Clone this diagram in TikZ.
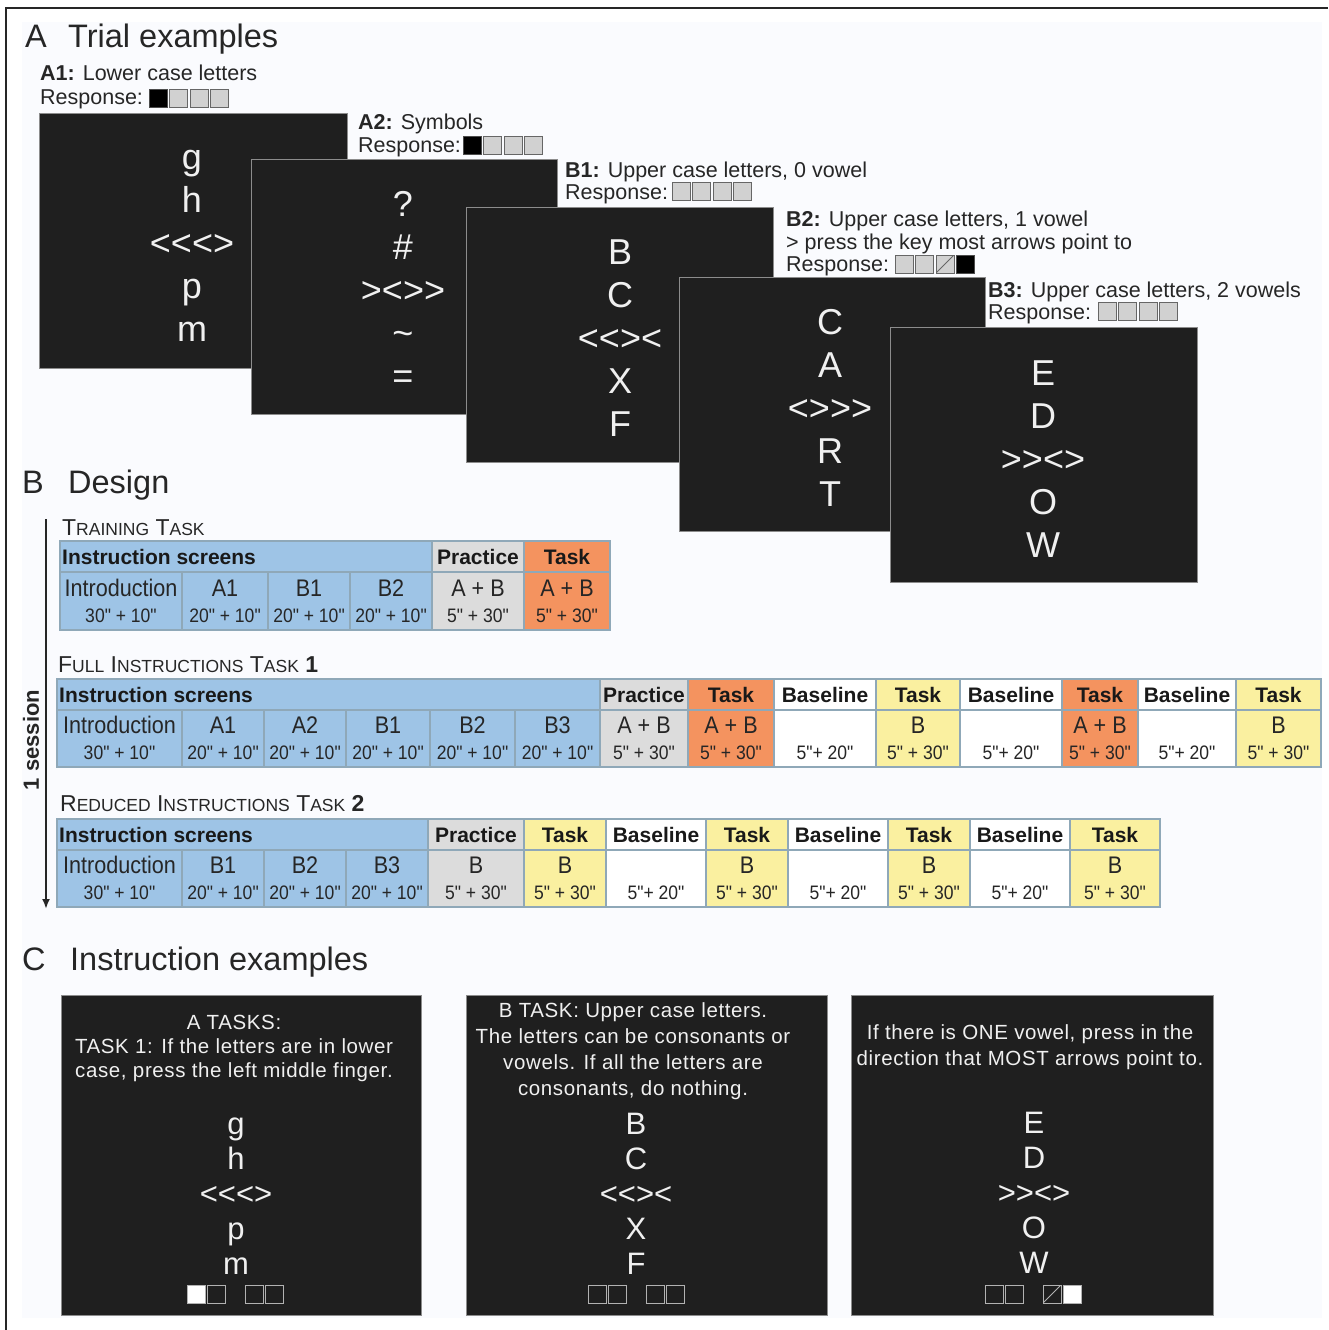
\documentclass[tikz,border=0pt]{standalone}
\usepackage{fontspec}
\setmainfont{Liberation Sans}
\newfontfamily\narrowfont[FakeStretch=0.9]{Liberation Sans}
\newfontfamily\panelfont[LetterSpace=3]{Liberation Sans}
\usetikzlibrary{arrows.meta}
\definecolor{scr}{HTML}{1F1F1F}
\definecolor{pagebg}{HTML}{FAFBFE}
\definecolor{blu}{HTML}{9EC4E6}
\definecolor{gry}{HTML}{DCDCDC}
\definecolor{org}{HTML}{F4935F}
\definecolor{yel}{HTML}{FAF0A0}
\definecolor{cline}{HTML}{8FA8B8}
\tikzset{
  screen/.style={fill=scr, draw=black!45, line width=0.8},
  scrtxt/.style={text=white!94!black, align=center, font=\fontsize{36}{43}\selectfont},
  lbl/.style={anchor=base west, inner sep=0, text=black!85, font=\fontsize{21.5}{24}\selectfont},
  sect/.style={anchor=base west, inner sep=0, text=black!85, font=\fontsize{32.5}{36}\selectfont},
  ttl/.style={anchor=base west, inner sep=0, text=black!85, font=\fontsize{23}{24}\selectfont},
  hdr/.style={inner sep=0, text=black!90, font=\bfseries\fontsize{21}{24}\selectfont},
  lab/.style={inner sep=0, text=black!85, font=\narrowfont\fontsize{24}{26}\selectfont},
  tim/.style={inner sep=0, text=black!85, font=\narrowfont\fontsize{19.5}{22}\selectfont},
  cblu/.style={draw=cline, fill=blu, line width=1.2},
  cgry/.style={draw=cline, fill=gry, line width=1.2},
  corg/.style={draw=cline, fill=org, line width=1.2},
  cyel/.style={draw=cline, fill=yel, line width=1.2},
  cwht/.style={draw=cline, fill=white, line width=1.2},
  rblk/.style={draw=black!70, fill=black, line width=0.8},
  rgry/.style={draw=black!60, fill=black!18, line width=0.8},
  rcut/.style={rgry, path picture={\draw[black!60, line width=0.8] (path picture bounding box.south west) -- (path picture bounding box.north east);}},
  ptxt/.style={text=white!94!black, align=center, font=\panelfont\fontsize{20.5}{24}\selectfont},
  pltr/.style={text=white!94!black, align=center, font=\fontsize{31}{35}\selectfont},
  kwht/.style={draw=white!70!black, fill=white, line width=0.8},
  kemp/.style={draw=white!70!black, line width=0.8},
  kcut/.style={kemp, path picture={\draw[white!70!black, line width=0.8] (path picture bounding box.south west) -- (path picture bounding box.north east);}}
}
\def\fakesc#1#2{#1{\fontsize{17.5}{18}\selectfont#2}}
\def\lsym{\mbox{<}}
\def\rsym{\mbox{>}}
\def\respbox(#1,#2)#3{\foreach \s [count=\k from 0] in {#3} {\draw[\s] ({#1+20.5*\k},#2) rectangle ++(18,18);}}
\def\keyrow(#1,#2)#3#4#5#6{%
  \draw[#3] (#1,#2) rectangle ++(18,18);
  \draw[#4] ({#1+20},#2) rectangle ++(18,18);
  \draw[#5] ({#1+58},#2) rectangle ++(18,18);
  \draw[#6] ({#1+78},#2) rectangle ++(18,18);}

\begin{document}
\begin{tikzpicture}[x=1pt,y=-1pt]
		%%%%% START %%%%%
		\useasboundingbox (0,0) rectangle (1328,1330);
		\fill[pagebg] (22,22) rectangle (1322,1318);
		\draw[line width=2.5, black!85] (6,1330) -- (6,8) -- (1328,8);
		
		%%%%% A: trial examples
		\node[sect] (secA) at (25,48) {A};
		\node[sect] (titA) at (68,48) {Trial examples};
		
		\node[lbl] (a1head) at (40,81) {\textbf{A1:} Lower case letters};
		\node[lbl] (a1resp) at (40,104) {Response:};
		\respbox(149,89){rblk,rgry,rgry,rgry}
		\draw[screen] (39,113) rectangle (347,368);
		\node[scrtxt] (a1ltr) at (192,246) {g\\h\\\lsym\lsym\lsym\rsym\\p\\m};
		
		\node[lbl] (a2head) at (358,129) {\textbf{A2:} Symbols};
		\node[lbl] (a2resp) at (358,152) {Response:};
		\respbox(463,136){rblk,rgry,rgry,rgry}
		\draw[screen] (251,159) rectangle (557,414);
		\node[scrtxt] (a2ltr) at (403,290) {?\\\#\\\rsym\lsym\rsym\rsym\\\textasciitilde\\=};
		
		\node[lbl] (b1head) at (565,177) {\textbf{B1:} Upper case letters, 0 vowel};
		\node[lbl] (b1resp) at (565,199) {Response:};
		\respbox(672,182){rgry,rgry,rgry,rgry}
		\draw[screen] (466,207) rectangle (773,462);
		\node[scrtxt] (b1ltr) at (620,338) {B\\C\\\lsym\lsym\rsym\lsym\\X\\F};
		
		\node[lbl] (b2head) at (786,226) {\textbf{B2:} Upper case letters, 1 vowel};
		\node[lbl] (b2note) at (786,249) {> press the key most arrows point to};
		\node[lbl] (b2resp) at (786,271) {Response:};
		\respbox(895,255){rgry,rgry,rcut,rblk}
		\draw[screen] (679,277) rectangle (985,531);
		\node[scrtxt] (b2ltr) at (830,408) {C\\A\\\lsym\rsym\rsym\rsym\\R\\T};
		
		\node[lbl] (b3head) at (988,297) {\textbf{B3:} Upper case letters, 2 vowels};
		\node[lbl] (b3resp) at (988,319) {Response:};
		\respbox(1098,302){rgry,rgry,rgry,rgry}
		\draw[screen] (890,327) rectangle (1197,582);
		\node[scrtxt] (b3ltr) at (1043,459) {E\\D\\\rsym\rsym\lsym\rsym\\O\\W};
		
		%%%%% B: design
		\node[sect] (secB) at (22,493) {B};
		\node[sect] (titB) at (68,493) {Design};
		
		\coordinate (sesstop) at (46,519);
		\coordinate (sessbot) at (46,909);
		\draw[line width=2, black!85, -{Latex[length=10,width=8]}] (sesstop) -- (sessbot);
		\node[rotate=90, inner sep=0, text=black!85, font=\bfseries\fontsize{22}{24}\selectfont] (sess) at (31,740) {1 session};
		
		% training task
		\node[ttl] (trttl) at (62,535) {\fakesc{T}{RAINING} \fakesc{T}{ASK}};
		\foreach \xa/\xb/\lb/\tm [count=\i] in {60/182/Introduction/30" + 10",182/268/A1/20" + 10",268/350/B1/20" + 10",350/432/B2/20" + 10"}{
			\draw[cblu] (\xa,572) rectangle (\xb,630);
			\node[lab] (trl\i) at ({(\xa+\xb)/2},588) {\lb};
			\node[tim] (trt\i) at ({(\xa+\xb)/2},616) {\tm};
		}
		\draw[cblu] (60,541) rectangle (432,572);
		\node[hdr, anchor=west] (trins) at (62,556.5) {Instruction screens};
		\foreach \xa/\xb/\st/\hd/\lb/\tm [count=\i] in {432/524/cgry/Practice/A + B/5" + 30",524/610/corg/Task/A + B/5" + 30"}{
			\draw[\st] (\xa,541) rectangle (\xb,572) (\xa,572) rectangle (\xb,630);
			\node[hdr] (trh\i) at ({(\xa+\xb)/2},556.5) {\hd};
			\node[lab] (trm\i) at ({(\xa+\xb)/2},588) {\lb};
			\node[tim] (trs\i) at ({(\xa+\xb)/2},616) {\tm};
		}
		
		% full instructions task 1
		\node[ttl] (futtl) at (58,672) {\fakesc{F}{ULL} \fakesc{I}{NSTRUCTIONS} \fakesc{T}{ASK} \textbf{1}};
		\foreach \xa/\xb/\lb/\tm [count=\i] in {57/182/Introduction/30" + 10",182/264/A1/20" + 10",264/346/A2/20" + 10",346/430/B1/20" + 10",430/515/B2/20" + 10",515/600/B3/20" + 10"}{
			\draw[cblu] (\xa,710) rectangle (\xb,767);
			\node[lab] (ful\i) at ({(\xa+\xb)/2},725) {\lb};
			\node[tim] (fut\i) at ({(\xa+\xb)/2},753) {\tm};
		}
		\draw[cblu] (57,679) rectangle (600,710);
		\node[hdr, anchor=west] (fuins) at (59,694.5) {Instruction screens};
		\foreach \xa/\xb/\st/\hd/\lb/\tm [count=\i] in {600/688/cgry/Practice/A + B/5" + 30",688/774/corg/Task/A + B/5" + 30",774/876/cwht/Baseline//5"+ 20",876/960/cyel/Task/B/5" + 30",960/1062/cwht/Baseline//5"+ 20",1062/1138/corg/Task/A + B/5" + 30",1138/1236/cwht/Baseline//5"+ 20",1236/1321/cyel/Task/B/5" + 30"}{
			\draw[\st] (\xa,679) rectangle (\xb,710) (\xa,710) rectangle (\xb,767);
			\node[hdr] (fuh\i) at ({(\xa+\xb)/2},694.5) {\hd};
			\node[lab] (fum\i) at ({(\xa+\xb)/2},725) {\lb};
			\node[tim] (fus\i) at ({(\xa+\xb)/2},753) {\tm};
		}
		
		% reduced instructions task 2
		\node[ttl] (rettl) at (60,811) {\fakesc{R}{EDUCED} \fakesc{I}{NSTRUCTIONS} \fakesc{T}{ASK} \textbf{2}};
		\foreach \xa/\xb/\lb/\tm [count=\i] in {57/182/Introduction/30" + 10",182/264/B1/20" + 10",264/346/B2/20" + 10",346/428/B3/20" + 10"}{
			\draw[cblu] (\xa,850) rectangle (\xb,907);
			\node[lab] (rel\i) at ({(\xa+\xb)/2},865) {\lb};
			\node[tim] (ret\i) at ({(\xa+\xb)/2},893) {\tm};
		}
		\draw[cblu] (57,819) rectangle (428,850);
		\node[hdr, anchor=west] (reins) at (59,834.5) {Instruction screens};
		\foreach \xa/\xb/\st/\hd/\lb/\tm [count=\i] in {428/524/cgry/Practice/B/5" + 30",524/606/cyel/Task/B/5" + 30",606/706/cwht/Baseline//5"+ 20",706/788/cyel/Task/B/5" + 30",788/888/cwht/Baseline//5"+ 20",888/970/cyel/Task/B/5" + 30",970/1070/cwht/Baseline//5"+ 20",1070/1160/cyel/Task/B/5" + 30"}{
			\draw[\st] (\xa,819) rectangle (\xb,850) (\xa,850) rectangle (\xb,907);
			\node[hdr] (reh\i) at ({(\xa+\xb)/2},834.5) {\hd};
			\node[lab] (rem\i) at ({(\xa+\xb)/2},865) {\lb};
			\node[tim] (res\i) at ({(\xa+\xb)/2},893) {\tm};
		}
		
		%%%%% C: instruction examples
		\node[sect] (secC) at (22,970) {C};
		\node[sect] (titC) at (70,970) {Instruction examples};
		
		\draw[screen] (61,995) rectangle (421,1315);
		\node[ptxt] (p1txt) at (234,1048) {A TASKS:\\TASK 1: If the letters are in lower\\case, press the left middle finger.};
		\node[pltr] (p1ltr) at (236,1196) {g\\h\\\lsym\lsym\lsym\rsym\\p\\m};
		\keyrow(187,1285){kwht}{kemp}{kemp}{kemp}
		
		\draw[screen] (466,995) rectangle (827,1315);
		\node[ptxt, font=\panelfont\fontsize{20.5}{26}\selectfont] (p2txt) at (633,1051) {B TASK: Upper case letters.\\The letters can be consonants or\\vowels. If all the letters are\\consonants, do nothing.};
		\node[pltr] (p2ltr) at (636,1194) {B\\C\\\lsym\lsym\rsym\lsym\\X\\F};
		\keyrow(588,1285){kemp}{kemp}{kemp}{kemp}
		
		\draw[screen] (851,995) rectangle (1213,1315);
		\node[ptxt, font=\panelfont\fontsize{20.5}{26}\selectfont] (p3txt) at (1030,1047) {If there is ONE vowel, press in the\\direction that MOST arrows point to.};
		\node[pltr] (p3ltr) at (1034,1193) {E\\D\\\rsym\rsym\lsym\rsym\\O\\W};
		\keyrow(985,1285){kemp}{kemp}{kcut}{kwht}
		
		%%%%% END %%%%%
\end{tikzpicture}
\end{document}
